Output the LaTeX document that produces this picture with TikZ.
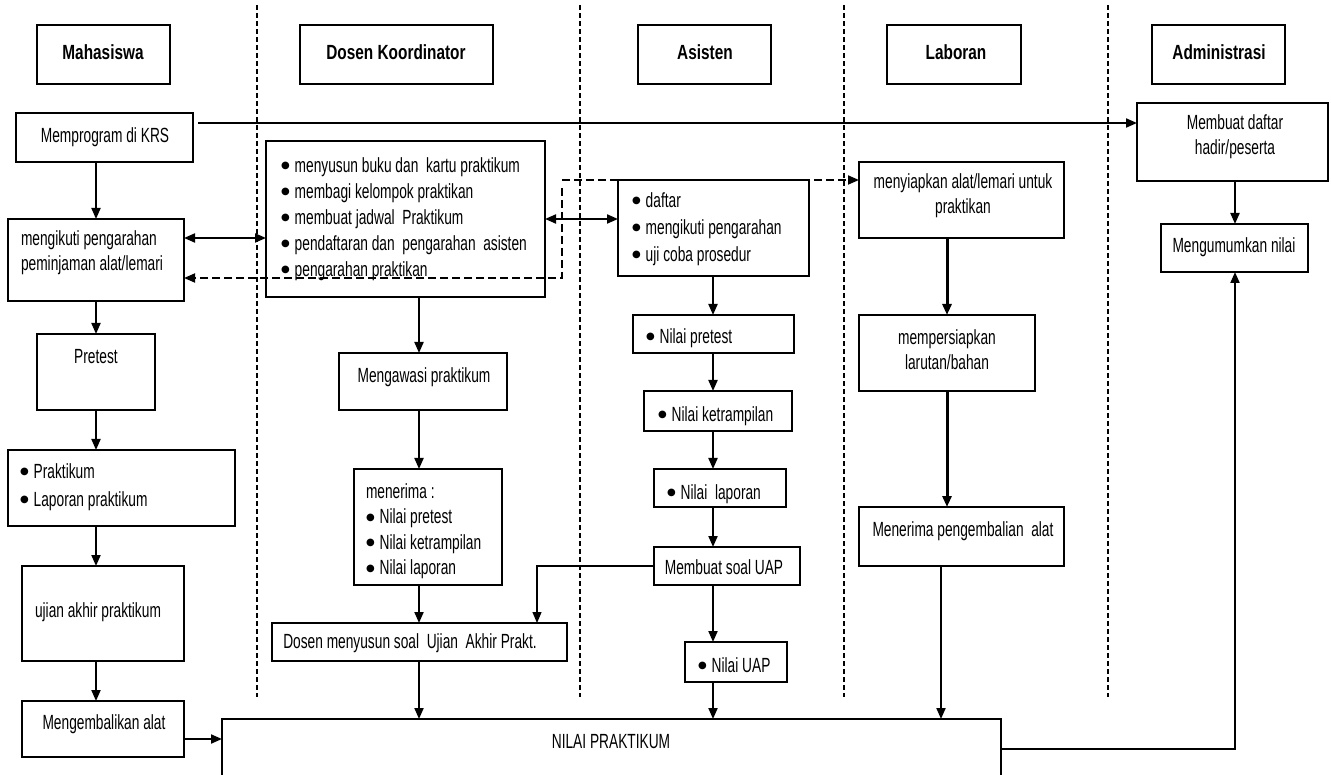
\documentclass[tikz,border=0pt]{standalone}
\usepackage{fontspec}
\setmainfont{Liberation Sans}[FakeStretch=0.67]
\newfontfamily\hdfont{Liberation Sans}[FakeStretch=0.75]
\newfontfamily\bulfont{DejaVu Sans}
\usetikzlibrary{arrows.meta,fit}
\newcommand\bodyfs{\fontsize{20.5}{25}\selectfont}
\newcommand\bul{\raisebox{3.5pt}{\bulfont\fontsize{10}{10}\selectfont ●}\hspace{5pt}}
\begin{document}
\begin{tikzpicture}[x=1pt,y=-1pt,
  box/.style={draw, line width=1.2pt, inner sep=0pt, outer sep=0pt},
  txt/.style={inner sep=0pt, outer sep=0pt, font=\bodyfs},
  hd/.style={inner sep=0pt, font=\hdfont\bfseries\fontsize{20.5}{23}\selectfont},
  arr/.style={line width=2pt, -{Triangle[length=11pt,width=9pt]}},
  thickarr/.style={line width=3pt, -{Triangle[length=11pt,width=9pt]}},
  darr/.style={line width=2pt, {Triangle[length=11pt,width=9pt]}-{Triangle[length=11pt,width=9pt]}},
  dsharr/.style={line width=1.8pt, dash pattern=on 8pt off 4pt, -{Triangle[length=11pt,width=9pt]}},
  thinarr/.style={line width=1.2pt, -{Triangle[length=11pt,width=9pt]}},
  lane/.style={line width=1.6pt, dash pattern=on 5pt off 3pt}]
\useasboundingbox (0,0) rectangle (1331,775);
\fill[white] (0,0) rectangle (1331,775);

% swimlane separators
\foreach \lx in {257,580,844,1108} \draw[lane] (\lx,5) -- (\lx,697);

% headers
\node[box, fit={(37,25) (170,84)}] (hm) {};
\node[hd] (thm) at (103,52) {Mahasiswa};
\node[box, fit={(300,25) (493,84)}] (hdk) {};
\node[hd] (thdk) at (396,52) {Dosen Koordinator};
\node[box, fit={(638,25) (771,84)}] (has) {};
\node[hd] (thas) at (705,52) {Asisten};
\node[box, fit={(887,25) (1021,84)}] (hlb) {};
\node[hd] (thlb) at (956,52) {Laboran};
\node[box, fit={(1152,25) (1285,84)}] (hadm) {};
\node[hd] (thadm) at (1219,52) {Administrasi};

% Mahasiswa column
\node[box, fit={(16,113) (193,162)}] (krs) {};
\node[txt] (tkrs) at (105,137) {Memprogram di KRS};
\node[box, fit={(8,219) (184,301)}] (meng) {};
\node[txt, anchor=west, align=left] (tmeng) at (21,253) {mengikuti pengarahan\\peminjaman alat/lemari};
\node[box, fit={(37,334) (155,410)}] (pre) {};
\node[txt] (tpre) at (96,357) {Pretest};
\node[box, fit={(8,450) (235,526)}] (prak) {};
\node[txt, anchor=west, align=left, font=\fontsize{20.5}{28}\selectfont] (tprak) at (20,487) {\bul Praktikum\\\bul Laporan praktikum};
\node[box, fit={(22,566) (184,661)}] (uas) {};
\node[txt] (tuas) at (98,612) {ujian akhir praktikum};
\node[box, fit={(22,701) (184,757)}] (kemb) {};
\node[txt] (tkemb) at (104,724) {Mengembalikan alat};

% Dosen Koordinator column
\node[box, fit={(266,141) (545,297)}] (dos) {};
\node[txt, anchor=west, align=left, font=\fontsize{20.5}{26}\selectfont] (tdos) at (281,219)
  {\bul menyusun buku dan\ \ kartu praktikum\\\bul membagi kelompok praktikan\\\bul membuat jadwal\ \ Praktikum\\\bul pendaftaran dan\ \ pengarahan\ \ asisten\\\bul pengarahan praktikan};
\node[box, fit={(339,353) (507,410)}] (awas) {};
\node[txt] (tawas) at (424,377) {Mengawasi praktikum};
\node[box, fit={(354,469) (502,585)}] (trm) {};
\node[txt, anchor=west, align=left, font=\fontsize{20.5}{25.5}\selectfont] (ttrm) at (366,531)
  {menerima :\\\bul Nilai pretest\\\bul Nilai ketrampilan\\\bul Nilai laporan};
\node[box, fit={(272,623) (567,661)}] (dms) {};
\node[txt] (tdms) at (410,643) {Dosen menyusun soal\ \ Ujian\ \ Akhir Prakt.};

% Asisten column
\node[box, fit={(618,180) (809,276)}] (adaf) {};
\node[txt, anchor=west, align=left, font=\fontsize{20.5}{27}\selectfont] (tadaf) at (632,229)
  {\bul daftar\\\bul mengikuti pengarahan\\\bul uji coba prosedur};
\node[box, fit={(633,315) (794,353)}] (npre) {};
\node[txt, anchor=west] (tnpre) at (646,338) {\bul Nilai pretest};
\node[box, fit={(644,391) (792,431)}] (nket) {};
\node[txt, anchor=west] (tnket) at (658,416) {\bul Nilai ketrampilan};
\node[box, fit={(654,469) (786,507)}] (nlap) {};
\node[txt, anchor=west] (tnlap) at (667,494) {\bul Nilai\ \ laporan};
\node[box, fit={(654,547) (800,585)}] (soal) {};
\node[txt] (tsoal) at (724,567) {Membuat soal UAP};
\node[box, fit={(685,642) (787,682)}] (nuap) {};
\node[txt, anchor=west] (tnuap) at (698,665) {\bul Nilai UAP};

% Laboran column
\node[box, fit={(859,162) (1064,238)}] (siap) {};
\node[txt, align=center] (tsiap) at (963,196) {menyiapkan alat/lemari untuk\\praktikan};
\node[box, fit={(859,315) (1035,391)}] (persi) {};
\node[txt, align=center] (tpersi) at (947,350) {mempersiapkan\\larutan/bahan};
\node[box, fit={(859,507) (1064,566)}] (ptrm) {};
\node[txt] (tptrm) at (963,531) {Menerima pengembalian\ \ alat};

% Administrasi column
\node[box, fit={(1137,103) (1328,181)}] (hadir) {};
\node[txt, align=center] (thadir) at (1235,137) {Membuat daftar\\hadir/peserta};
\node[box, fit={(1161,224) (1308,272)}] (umum) {};
\node[txt] (tumum) at (1234,247) {Mengumumkan nilai};

% result
\node[box, fit={(222,719) (1001,800)}] (nilai) {};
\node[txt] (tnilai) at (611,742) {NILAI PRAKTIKUM};

% connectors
\coordinate (mx) at (96,0);
\coordinate (dx) at (419,0);
\coordinate (ax) at (713,0);
\coordinate (lx) at (947,0);
\coordinate (lx2) at (941,0);
\coordinate (rx) at (1235,0);

\draw[arr, shorten <=5pt] (krs.east |- 0,123) -- (hadir.west |- 0,123);
\draw[arr] (hadir.south -| rx) -- (umum.north -| rx);
\draw[arr] (krs.south -| mx) -- (meng.north -| mx);
\draw[darr] (meng.east |- 0,238) -- (dos.west |- 0,238);
\draw[darr] (dos.east |- 0,219) -- (adaf.west |- 0,219);
\coordinate (dc1) at (562,180);
\coordinate (dc2) at (562,188);
\coordinate (dc3) at (562,278);
\draw[dsharr] (dc1) -- (siap.west |- dc1);
\draw[dsharr] (dc2) -- (dc3) -- (meng.east |- dc3);

\draw[arr] (meng.south -| mx) -- (pre.north -| mx);
\draw[arr] (pre.south -| mx) -- (prak.north -| mx);
\draw[arr] (prak.south -| mx) -- (uas.north -| mx);
\draw[arr] (uas.south -| mx) -- (kemb.north -| mx);
\draw[arr] (kemb.east |- 0,739) -- (nilai.west |- 0,739);

\draw[arr] (dos.south -| dx) -- (awas.north -| dx);
\draw[arr] (awas.south -| dx) -- (trm.north -| dx);
\draw[arr] (trm.south -| dx) -- (dms.north -| dx);
\draw[arr] (dms.south -| dx) -- (nilai.north -| dx);

\draw[arr] (adaf.south -| ax) -- (npre.north -| ax);
\draw[arr] (npre.south -| ax) -- (nket.north -| ax);
\draw[arr] (nket.south -| ax) -- (nlap.north -| ax);
\draw[arr] (nlap.south -| ax) -- (soal.north -| ax);
\draw[arr] (soal.south -| ax) -- (nuap.north -| ax);
\draw[arr] (nuap.south -| ax) -- (nilai.north -| ax);
\coordinate (sx) at (537,566);
\draw[thinarr] (soal.west |- sx) -- (sx) -- (dms.north -| sx);

\draw[thickarr] (siap.south -| lx) -- (persi.north -| lx);
\draw[thickarr] (persi.south -| lx) -- (ptrm.north -| lx);
\draw[arr] (ptrm.south -| lx2) -- (nilai.north -| lx2);

\coordinate (nr) at (1235,749);
\draw[arr] (nilai.east |- nr) -- (nr) -- (umum.south -| rx);
\end{tikzpicture}
\end{document}
